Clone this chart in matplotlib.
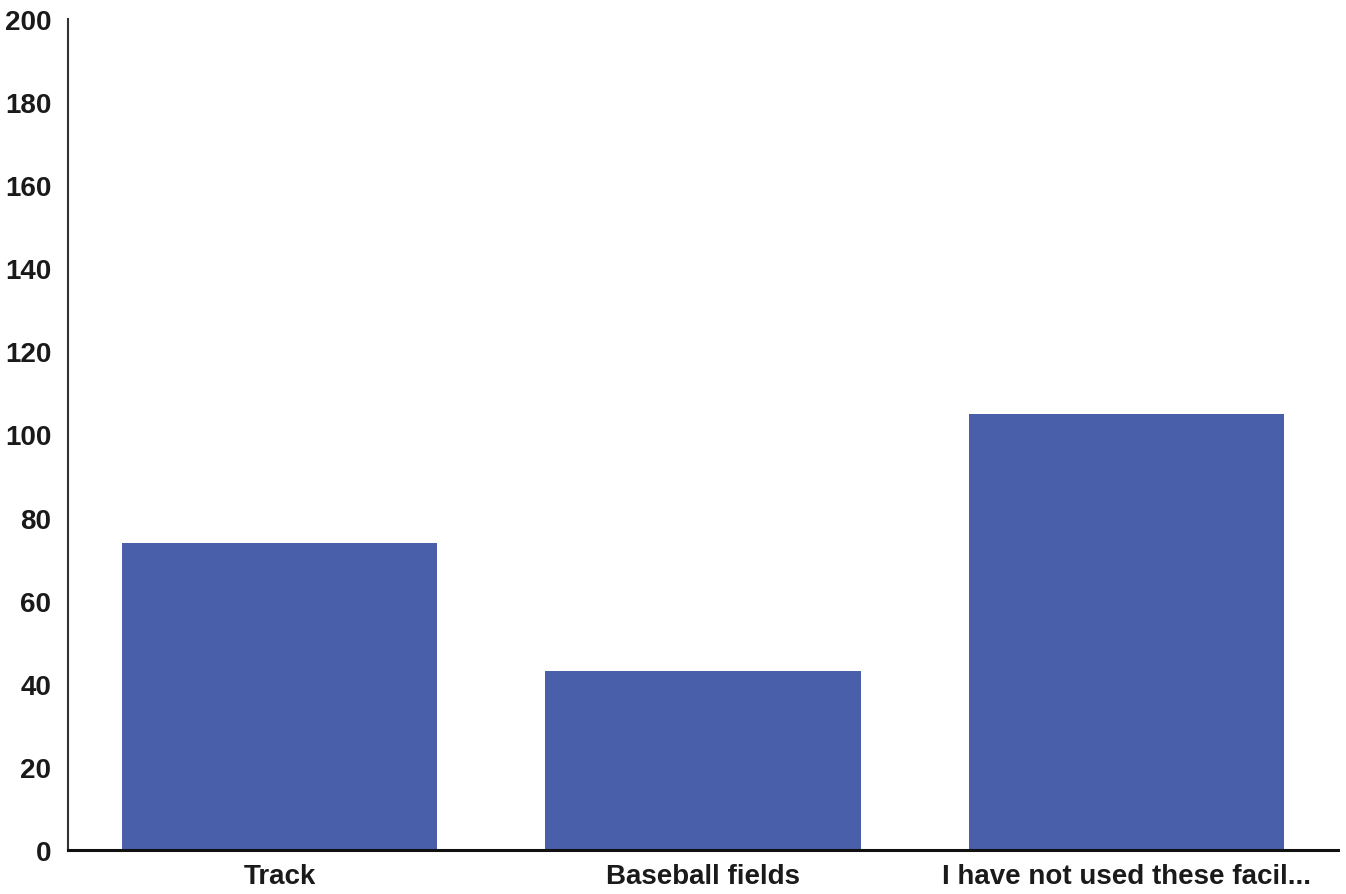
import matplotlib
matplotlib.use("Agg")
import matplotlib.pyplot as plt

categories = ["Track", "Baseball fields", "I have not used these facil..."]
counts = [74, 43, 105]
y_ticks = [0, 20, 40, 60, 80, 100, 120, 140, 160, 180, 200]

plt.rcParams['font.family'] = ['Liberation Sans', 'DejaVu Sans']

fig = plt.figure(figsize=(13.46, 8.95), dpi=100)
ax = fig.add_axes([0.0505, 0.049, 0.9435, 0.929])

ax.bar(range(len(categories)), counts, width=0.745, color='#4a5fa9')

ax.set_xlim(-0.5, 2.5)
ax.set_ylim(0, 200)
ax.set_yticks(y_ticks)
ax.set_xticks(range(len(categories)))
ax.set_xticklabels(categories)

ax.tick_params(axis='both', length=0, labelsize=20, colors='#1a1a1a')
ax.tick_params(axis='y', pad=12)
ax.tick_params(axis='x', pad=9)

for lab in ax.get_xticklabels() + ax.get_yticklabels():
    lab.set_fontweight('bold')

ax.spines['top'].set_visible(False)
ax.spines['right'].set_visible(False)
ax.spines['left'].set_color('#333333')
ax.spines['left'].set_linewidth(1.5)
ax.spines['bottom'].set_color('#111111')
ax.spines['bottom'].set_linewidth(2.2)

fig.savefig("out.png", dpi=100)
